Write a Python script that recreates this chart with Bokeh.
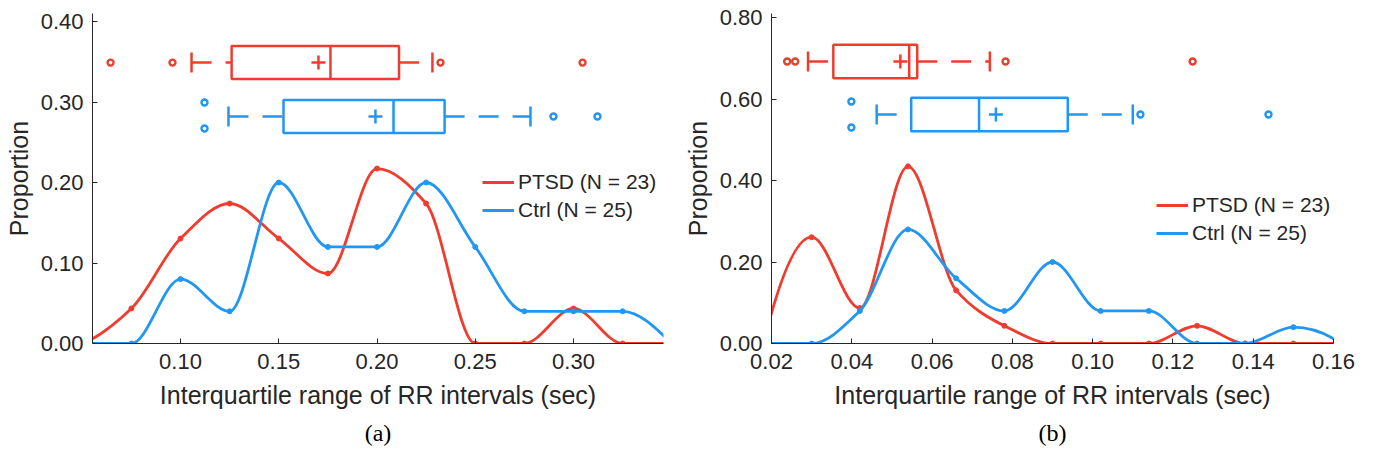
import numpy as np
from bokeh.plotting import figure
from bokeh.models import (Range1d, FixedTicker, PrintfTickFormatter, Legend,
                          LegendItem, Title)
from bokeh.layouts import row
from bokeh.embed import file_html
from bokeh.resources import INLINE

RED = "#F03C2E"
BLUE = "#2196F3"
INK = "#262626"
SANS = "Liberation Sans"
SERIF = "Liberation Serif"

N_PTSD = 23
N_CTRL = 25

# ---- panel (a): histogram of IQR of RR intervals, bin centres (sec) ----
bins_a = [0.050, 0.075, 0.100, 0.125, 0.150, 0.175, 0.200,
          0.225, 0.250, 0.275, 0.300, 0.325, 0.350]
ptsd_counts_a = [0, 1, 3, 4, 3, 2, 5, 4, 0, 0, 1, 0, 0]
ctrl_counts_a = [0, 0, 2, 1, 5, 3, 3, 5, 3, 1, 1, 1, 0]

# box summaries: [lower whisker, q1, median, mean, q3, upper whisker]
ptsd_box_a = [0.1056, 0.1260, 0.1763, 0.1702, 0.2112, 0.2282]
ctrl_box_a = [0.1244, 0.1524, 0.2084, 0.1992, 0.2344, 0.2781]
ptsd_outliers_a = [0.0644, 0.0959, 0.2323, 0.3046]
ctrl_outliers_a = [0.1122, 0.1122, 0.2898, 0.3122]

# ---- panel (b) ----
bins_b = [0.018, 0.030, 0.042, 0.054, 0.066, 0.078, 0.090,
          0.102, 0.114, 0.126, 0.138, 0.150, 0.162]
ptsd_counts_b = [0, 6, 2, 10, 3, 1, 0, 0, 0, 1, 0, 0, 0]
ctrl_counts_b = [0, 0, 2, 7, 4, 2, 5, 2, 2, 0, 0, 1, 0]

ptsd_box_b = [0.0291, 0.0354, 0.0543, 0.0521, 0.0563, 0.0744]
ctrl_box_b = [0.0462, 0.0548, 0.0717, 0.0759, 0.0938, 0.1100]
ptsd_outliers_b = [0.0239, 0.0259, 0.0783, 0.1249]
ctrl_outliers_b = [0.0399, 0.0399, 0.1119, 0.1438]

x_ticks_a = [0.10, 0.15, 0.20, 0.25, 0.30]
y_ticks_a = [0.0, 0.1, 0.2, 0.3, 0.4]
x_ticks_b = [0.02, 0.04, 0.06, 0.08, 0.10, 0.12, 0.14, 0.16]
y_ticks_b = [0.0, 0.2, 0.4, 0.6, 0.8]


def _end_slope(h0, h1, d0, d1):
    s = ((2 * h0 + h1) * d0 - h0 * d1) / (h0 + h1)
    if np.sign(s) != np.sign(d0):
        s = 0.0
    elif np.sign(d0) != np.sign(d1) and abs(s) > abs(3 * d0):
        s = 3 * d0
    return s


def pchip_slopes(x, y):
    """Shape-preserving (Fritsch-Carlson) tangents at the knots."""
    x = np.asarray(x, float)
    y = np.asarray(y, float)
    h = np.diff(x)
    delta = np.diff(y) / h
    d = np.zeros_like(y)
    for k in range(1, len(x) - 1):
        if delta[k - 1] * delta[k] > 0:
            w1 = 2 * h[k] + h[k - 1]
            w2 = h[k] + 2 * h[k - 1]
            d[k] = (w1 + w2) / (w1 / delta[k - 1] + w2 / delta[k])
    d[0] = _end_slope(h[0], h[1], delta[0], delta[1])
    d[-1] = _end_slope(h[-1], h[-2], delta[-1], delta[-2])
    return d


def smooth_curve(p, x, y, color):
    """Piecewise cubic Hermite curve drawn as Bezier segments, plus knot dots."""
    x = np.asarray(x, float)
    y = np.asarray(y, float)
    d = pchip_slopes(x, y)
    h = np.diff(x)
    r = p.bezier(x0=x[:-1], y0=y[:-1], x1=x[1:], y1=y[1:],
                 cx0=x[:-1] + h / 3, cy0=y[:-1] + d[:-1] * h / 3,
                 cx1=x[1:] - h / 3, cy1=y[1:] - d[1:] * h / 3,
                 line_color=color, line_width=2.8)
    p.scatter(x=x, y=y, marker="circle", size=5, fill_color=color,
              line_color=color)
    return r


def boxplot(p, stats, outliers, out_dy, yrow, half, color):
    lo, q1, med, mean, q3, hi = stats
    lw = 2.5
    p.quad(left=[q1], right=[q3], bottom=[yrow - half], top=[yrow + half],
           fill_color=None, line_color=color, line_width=lw)
    p.segment(x0=[med], y0=[yrow - half], x1=[med], y1=[yrow + half],
              line_color=color, line_width=lw)
    p.segment(x0=[lo, q3], y0=[yrow, yrow], x1=[q1, hi], y1=[yrow, yrow],
              line_color=color, line_width=lw, line_dash="20 14")
    p.scatter(x=[lo, hi], y=[yrow, yrow], marker="dash", angle=np.pi / 2,
              size=20, line_color=color, line_width=lw)
    p.scatter(x=[mean], y=[yrow], marker="cross", size=14,
              line_color=color, line_width=lw)
    p.scatter(x=outliers, y=[yrow + dy for dy in out_dy], marker="circle",
              size=6, fill_color="white", line_color=color, line_width=2.4)


def make_panel(width, border_left, border_right, xr, yr, xt, yt, caption):
    p = figure(width=width, height=464, x_range=Range1d(*xr),
               y_range=Range1d(*yr), output_backend="svg",
               toolbar_location=None, min_border_left=border_left,
               min_border_right=border_right, min_border_top=13,
               min_border_bottom=121)
    p.outline_line_color = None
    p.grid.visible = False
    p.background_fill_color = "white"
    p.border_fill_color = "white"
    for ax, ticks in ((p.xaxis, xt), (p.yaxis, yt)):
        ax.ticker = FixedTicker(ticks=ticks)
        ax.formatter = PrintfTickFormatter(format="%.2f")
        ax.major_tick_in = 5
        ax.major_tick_out = 0
        ax.minor_tick_line_color = None
        ax.axis_line_color = INK
        ax.major_tick_line_color = INK
        ax.major_label_text_font = SANS
        ax.major_label_text_font_size = "22px"
        ax.major_label_text_color = INK
        ax.axis_label_text_font = SANS
        ax.axis_label_text_font_size = "25px"
        ax.axis_label_text_font_style = "normal"
        ax.axis_label_text_color = INK
        ax.major_label_standoff = 9
    p.xaxis.major_label_standoff = 10
    p.xaxis.axis_label = "Interquartile range of RR intervals (sec)"
    p.xaxis.axis_label_standoff = 9
    p.yaxis.axis_label = "Proportion"
    p.yaxis.axis_label_standoff = 5
    p.add_layout(Title(text=caption, align="center", text_font=SERIF,
                       text_font_size="24px", text_font_style="normal",
                       text_color="black", standoff=12), "below")
    return p


def add_legend(p, r_ptsd, r_ctrl, loc):
    leg = Legend(items=[LegendItem(label="PTSD (N = 23)", renderers=[r_ptsd], index=0),
                        LegendItem(label="Ctrl (N = 25)", renderers=[r_ctrl], index=0)],
                 location=loc, glyph_width=32, glyph_height=20, label_standoff=4,
                 spacing=4, padding=0, margin=0, border_line_color=None,
                 background_fill_alpha=0, label_text_font=SANS,
                 label_text_font_size="21px", label_text_color=INK)
    p.add_layout(leg)


# ---- panel (a) ----
pa = make_panel(680, 92, 17, (0.0552, 0.3458), (0.0, 0.41),
                x_ticks_a, y_ticks_a, "(a)")
ra_p = smooth_curve(pa, bins_a, np.array(ptsd_counts_a) / N_PTSD, RED)
ra_c = smooth_curve(pa, bins_a, np.array(ctrl_counts_a) / N_CTRL, BLUE)
boxplot(pa, ptsd_box_a, ptsd_outliers_a, [0, 0, 0, 0], 0.349, 0.0205, RED)
boxplot(pa, ctrl_box_a, ctrl_outliers_a, [0.0174, -0.0149, 0, 0], 0.282, 0.0205, BLUE)
add_legend(pa, ra_p, ra_c, (390, 121))

# ---- panel (b) ----
pb = make_panel(694, 82, 41, (0.02, 0.16), (0.0, 0.81),
                x_ticks_b, y_ticks_b, "(b)")
rb_p = smooth_curve(pb, bins_b, np.array(ptsd_counts_b) / N_PTSD, RED)
rb_c = smooth_curve(pb, bins_b, np.array(ctrl_counts_b) / N_CTRL, BLUE)
boxplot(pb, ptsd_box_b, ptsd_outliers_b, [0, 0, 0, 0], 0.692, 0.041, RED)
boxplot(pb, ctrl_box_b, ctrl_outliers_b, [0.032, -0.032, 0, 0], 0.562, 0.041, BLUE)
add_legend(pb, rb_p, rb_c, (385, 98))

layout = row(pa, pb)
open("out.html", "w").write(file_html(layout, INLINE))
